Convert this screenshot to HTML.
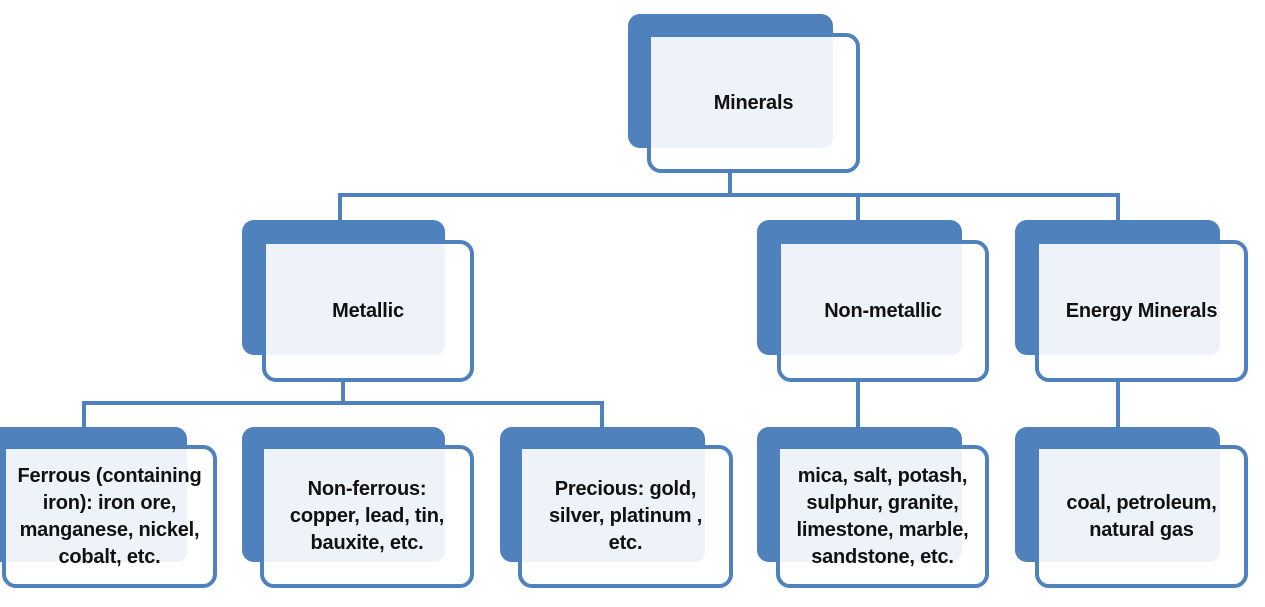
<!DOCTYPE html>
<html><head><meta charset="utf-8"><style>
body{margin:0;width:1265px;height:607px;background:#fff;position:relative;overflow:hidden;font-family:"Liberation Sans",sans-serif}
.b{position:absolute;background:#4f81bd;border-radius:12px}
.f{position:absolute;background:#fff;border:4px solid #4f81bd;border-radius:14px;box-sizing:border-box}
.l{position:absolute;background:#eef2f9;border-radius:0 0 10px 0}
.t{position:absolute;display:flex;align-items:center;justify-content:center;text-align:center;font-size:20px;font-weight:bold;line-height:27px;color:#111;letter-spacing:-0.2px}
.h{position:absolute;background:#4f81bd}
</style></head><body>
<div class="h" style="left:728px;top:173px;width:4px;height:24px"></div>
<div class="h" style="left:338px;top:193px;width:782px;height:4px"></div>
<div class="h" style="left:338px;top:193px;width:4px;height:28px"></div>
<div class="h" style="left:856px;top:193px;width:4px;height:28px"></div>
<div class="h" style="left:1116px;top:193px;width:4px;height:28px"></div>
<div class="h" style="left:341px;top:382px;width:4px;height:23px"></div>
<div class="h" style="left:82px;top:401px;width:522px;height:4px"></div>
<div class="h" style="left:82px;top:401px;width:4px;height:26px"></div>
<div class="h" style="left:600px;top:401px;width:4px;height:26px"></div>
<div class="h" style="left:856px;top:382px;width:4px;height:45px"></div>
<div class="h" style="left:1116px;top:382px;width:4px;height:45px"></div>

<div class="b" style="left:628px;top:14px;width:205px;height:134px"></div>
<div class="f" style="left:647px;top:33px;width:213px;height:140px"></div>
<div class="l" style="left:651px;top:37px;width:182px;height:111px"></div>
<div class="t" style="left:647px;top:33px;width:213px;height:140px">Minerals</div>

<div class="b" style="left:242px;top:220px;width:203px;height:135px"></div>
<div class="f" style="left:262px;top:240px;width:212px;height:142px"></div>
<div class="l" style="left:266px;top:244px;width:179px;height:111px"></div>
<div class="t" style="left:262px;top:240px;width:212px;height:142px">Metallic</div>

<div class="b" style="left:757px;top:220px;width:205px;height:135px"></div>
<div class="f" style="left:777px;top:240px;width:212px;height:142px"></div>
<div class="l" style="left:781px;top:244px;width:181px;height:111px"></div>
<div class="t" style="left:777px;top:240px;width:212px;height:142px">Non-metallic</div>

<div class="b" style="left:1015px;top:220px;width:205px;height:135px"></div>
<div class="f" style="left:1035px;top:240px;width:213px;height:142px"></div>
<div class="l" style="left:1039px;top:244px;width:181px;height:111px"></div>
<div class="t" style="left:1035px;top:240px;width:213px;height:142px">Energy Minerals</div>

<div class="b" style="left:-12px;top:427px;width:199px;height:135px"></div>
<div class="f" style="left:2px;top:445px;width:215px;height:143px"></div>
<div class="l" style="left:6px;top:449px;width:181px;height:113px"></div>
<div class="t" style="left:2px;top:445px;width:215px;height:143px">Ferrous (containing<br>iron): iron ore,<br>manganese, nickel,<br>cobalt, etc.</div>

<div class="b" style="left:242px;top:427px;width:203px;height:135px"></div>
<div class="f" style="left:260px;top:445px;width:214px;height:143px"></div>
<div class="l" style="left:264px;top:449px;width:181px;height:113px"></div>
<div class="t" style="left:260px;top:445px;width:214px;height:143px">Non-ferrous:<br>copper, lead, tin,<br>bauxite, etc.</div>

<div class="b" style="left:500px;top:427px;width:205px;height:135px"></div>
<div class="f" style="left:518px;top:445px;width:215px;height:143px"></div>
<div class="l" style="left:522px;top:449px;width:183px;height:113px"></div>
<div class="t" style="left:518px;top:445px;width:215px;height:143px">Precious: gold,<br>silver, platinum ,<br>etc.</div>

<div class="b" style="left:757px;top:427px;width:205px;height:135px"></div>
<div class="f" style="left:776px;top:445px;width:213px;height:143px"></div>
<div class="l" style="left:780px;top:449px;width:182px;height:113px"></div>
<div class="t" style="left:776px;top:445px;width:213px;height:143px">mica, salt, potash,<br>sulphur, granite,<br>limestone, marble,<br>sandstone, etc.</div>

<div class="b" style="left:1015px;top:427px;width:205px;height:135px"></div>
<div class="f" style="left:1035px;top:445px;width:213px;height:143px"></div>
<div class="l" style="left:1039px;top:449px;width:181px;height:113px"></div>
<div class="t" style="left:1035px;top:445px;width:213px;height:143px">coal, petroleum,<br>natural gas</div>
</body></html>
